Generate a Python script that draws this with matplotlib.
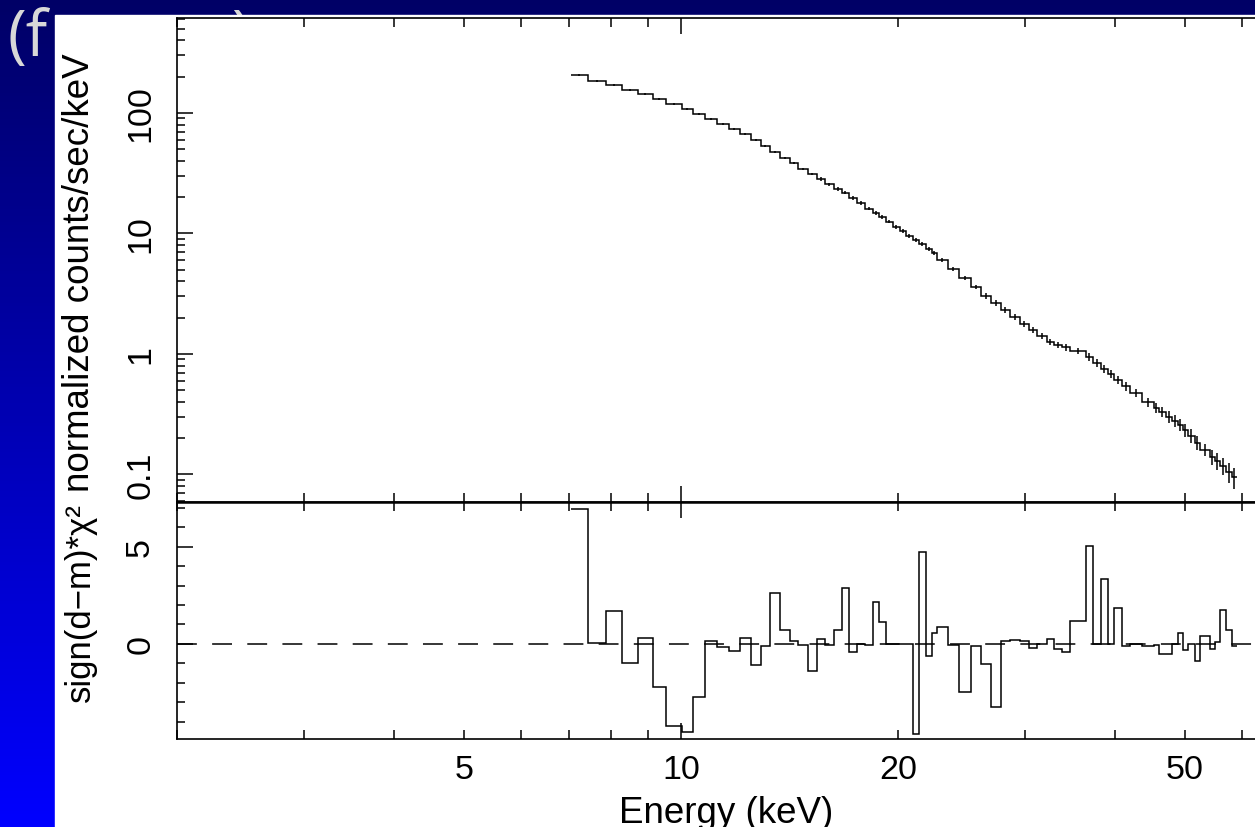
import numpy as np
import matplotlib.pyplot as plt
from matplotlib.colors import LinearSegmentedColormap
from matplotlib.patches import Rectangle
from matplotlib.ticker import FixedLocator, FuncFormatter, NullFormatter, LogLocator

plt.rcParams['font.family'] = ['Liberation Sans', 'DejaVu Sans']

# spectrum bins (keV)
edges_kev = [7.04, 7.43, 7.87, 8.28, 8.72, 9.15, 9.53, 10.03, 10.39, 10.80,
             11.22, 11.66, 12.07, 12.50, 12.91, 13.29, 13.72, 14.16, 14.53, 15.00,
             15.44, 15.84, 16.30, 16.72, 17.10, 17.54, 18.00, 18.47, 18.83, 19.24,
             19.68, 20.12, 20.51, 20.98, 21.38, 21.87, 22.29, 22.65, 23.46, 24.30,
             25.25, 26.07, 26.92, 27.79, 28.60, 29.53, 30.39, 31.18, 32.19, 32.92,
             33.77, 34.64, 36.46, 37.28, 38.24, 39.11, 39.87, 40.90, 41.96, 43.60,
             45.29, 46.03, 47.07, 47.97, 48.90, 49.70, 50.50, 51.64, 52.47, 54.17,
             55.04, 55.93, 57.01, 58.11, 59.05]

# normalized counts/sec/keV
counts = [208, 185, 172, 156, 144, 131, 119, 108, 98.1, 89.2,
          81.0, 73.7, 66.9, 59.7, 53.2, 47.5, 42.3, 38.5, 34.3, 31.2,
          28.3, 25.7, 23.4, 21.7, 19.7, 17.9, 16.0, 14.8, 13.7, 12.5,
          11.3, 10.5, 9.53, 8.83, 8.18, 7.43, 6.89, 6.03, 5.07, 4.28,
          3.60, 3.03, 2.65, 2.32, 2.03, 1.77, 1.58, 1.41, 1.26, 1.19,
          1.14, 1.06, 0.944, 0.841, 0.751, 0.683, 0.608, 0.542, 0.474, 0.400,
          0.356, 0.330, 0.300, 0.278, 0.258, 0.234, 0.209, 0.183, 0.160, 0.140,
          0.129, 0.118, 0.105, 0.095]

# fractional error of each bin
rel_err = [0.02, 0.02, 0.02, 0.02, 0.02, 0.02, 0.02, 0.02, 0.02, 0.02,
           0.025, 0.025, 0.025, 0.025, 0.025, 0.025, 0.025, 0.025, 0.025, 0.025,
           0.03, 0.03, 0.03, 0.03, 0.03, 0.03, 0.03, 0.03, 0.03, 0.03,
           0.035, 0.035, 0.035, 0.04, 0.04, 0.04, 0.045, 0.04, 0.04, 0.045,
           0.045, 0.05, 0.05, 0.05, 0.055, 0.055, 0.06, 0.06, 0.06, 0.065,
           0.065, 0.06, 0.07, 0.07, 0.075, 0.08, 0.08, 0.085, 0.08, 0.085,
           0.1, 0.1, 0.11, 0.11, 0.12, 0.12, 0.13, 0.13, 0.12, 0.14,
           0.16, 0.17, 0.19, 0.2]

# sign(d-m)*chi^2
resid = [6.93, 0.03, 1.7, -1.0, 0.3, -2.2, -4.2, -4.5, -2.7, 0.17,
         -0.14, -0.36, 0.3, -1.06, -0.1, 2.63, 0.73, 0.15, -0.03, -1.37,
         0.25, -0.05, 0.72, 2.87, -0.4, 0.02, -0.05, 2.15, 1.12, -0.02,
         -0.01, -0.02, 0.01, -4.6, 4.74, -0.6, 0.56, 0.87, -0.03, -2.45,
         -0.08, -1.03, -3.25, 0.15, 0.2, 0.15, -0.2, 0.0, 0.25, -0.26,
         -0.41, 1.2, 5.05, 0.0, 3.33, 0.0, 1.85, -0.1, -0.02, -0.08,
         -0.05, -0.5, -0.5, 0.0, 0.56, -0.3, 0.0, -0.86, 0.43, -0.26,
         0.1, 1.74, 0.73, -0.1]

edges = np.array(edges_kev)
cnt = np.array(counts)
centers = np.sqrt(edges[:-1] * edges[1:])
yerr = cnt * np.array(rel_err)

W, H = 1255, 828
fig = plt.figure(figsize=(W / 100, H / 100), dpi=100)

# slide background: blue gradient, title hidden behind the white plot
bg = fig.add_axes([0, 0, 1, 1], zorder=-10)
cmap = LinearSegmentedColormap.from_list('slide', ['#000066', '#0000ff'])
bg.imshow(np.linspace(0, 1, 256).reshape(-1, 1), cmap=cmap, aspect='auto',
          extent=(0, W, H, 0))
bg.set_xlim(0, W)
bg.set_ylim(H, 0)
bg.axis('off')
bg.text(8, 56, "(f", color='#d8d8d8', fontsize=46, family='Open Sans', zorder=2)
bg.text(231, 56, ")", color='#d8d8d8', fontsize=46, family='Open Sans', zorder=2)
bg.add_patch(Rectangle((55, 16), W - 55, H - 16, color='white', zorder=3))


def fx(px):
    return px / W


def fy(py):
    return 1 - py / H


left, right = 177, 1290
ax1 = fig.add_axes([fx(left), fy(503), fx(right - left), (503 - 19) / H])
ax2 = fig.add_axes([fx(left), fy(740), fx(right - left), (740 - 503) / H])

tick_fs = 24.5
lw = 1.1

for ax in (ax1, ax2):
    ax.set_xscale('log')
    ax.set_xlim(2, 70)
    ax.xaxis.set_major_locator(FixedLocator([10]))
    ax.xaxis.set_minor_locator(FixedLocator([2, 3, 4, 5, 6, 7, 8, 9, 20, 30, 40, 50, 60]))
    ax.tick_params(which='both', direction='in', top=True, right=True,
                   width=1.1, color='black', labelsize=tick_fs)
    ax.tick_params(axis='x', which='major', length=11.5)
    ax.tick_params(axis='x', which='minor', length=6.5)
    ax.tick_params(axis='y', which='major', length=11.5, labelrotation=90, pad=15)
    ax.tick_params(axis='y', which='minor', length=6)
    for s in ax.spines.values():
        s.set_linewidth(1.2)
    ax.set_facecolor('white')

# top panel: spectrum
ax1.stairs(cnt, edges, color='black', lw=lw, baseline=None)
ax1.errorbar(centers, cnt, yerr=yerr, fmt='none', ecolor='black', elinewidth=lw)
ax1.set_yscale('log')
ax1.set_ylim(0.059, 614)
ax1.yaxis.set_major_locator(LogLocator(base=10))
ax1.yaxis.set_minor_locator(LogLocator(base=10, subs=np.arange(2, 10)))
ax1.yaxis.set_major_formatter(FuncFormatter(lambda v, p: '%g' % v))
ax1.yaxis.set_minor_formatter(NullFormatter())
ax1.xaxis.set_major_formatter(NullFormatter())
ax1.xaxis.set_minor_formatter(NullFormatter())
ax1.spines['bottom'].set_linewidth(1.8)

# bottom panel: residuals
ax2.stairs(resid, edges, color='black', lw=lw, baseline=None)
ax2.axhline(0, color='black', lw=lw, ls=(0, (13, 10)))
ax2.set_ylim(-4.88, 7.29)
ax2.yaxis.set_major_locator(FixedLocator([0, 5]))
ax2.yaxis.set_minor_locator(FixedLocator(range(-4, 8)))
ax2.yaxis.set_major_formatter(FuncFormatter(lambda v, p: '%g' % v))
ax2.xaxis.set_major_formatter(FuncFormatter(lambda v, p: '%g' % v))
ax2.xaxis.set_minor_formatter(FuncFormatter(lambda v, p: '%g' % v if round(v) in (5, 20, 50) else ''))
ax2.tick_params(axis='x', which='both', pad=11)
ax2.spines['top'].set_linewidth(1.8)

for ax in (ax1, ax2):
    for lab in ax.get_yticklabels():
        lab.set_va('center')

fig.text(fx(726), fy(823), "Energy (keV)", ha='center', va='baseline', fontsize=26.5)
fig.text(fx(80), fy(273), "normalized counts/sec/keV", ha='center', va='center',
         rotation=90, fontsize=26.5)
fig.text(fx(80), fy(603), "sign(d\u2212m)*\u03c7\u00b2", ha='center', va='center',
         rotation=90, fontsize=25)

fig.savefig('out.png', dpi=100)
